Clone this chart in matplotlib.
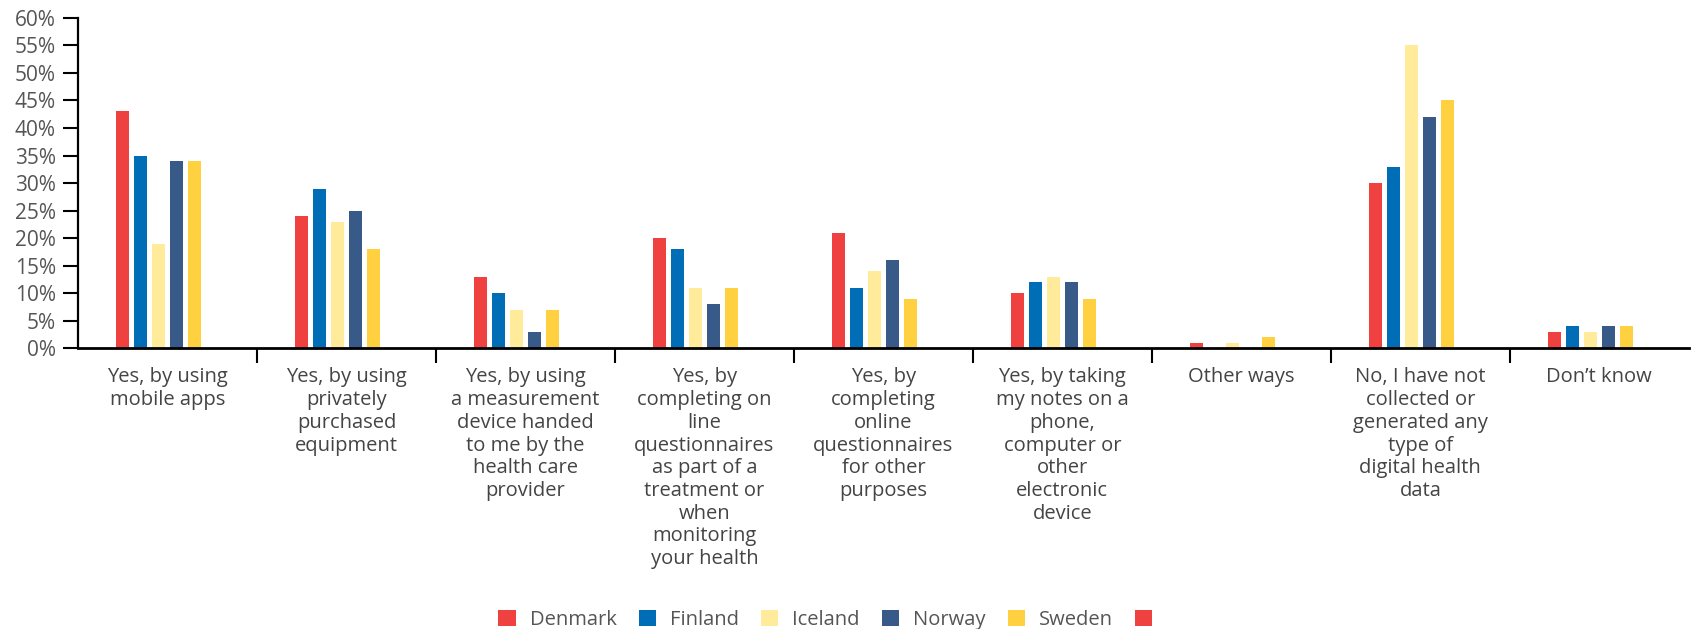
import matplotlib
matplotlib.use("Agg")
import matplotlib.pyplot as plt
import numpy as np

categories = [
    "Yes, by using\nmobile apps",
    "Yes, by using\nprivately\npurchased\nequipment",
    "Yes, by using\na measurement\ndevice handed\nto me by the\nhealth care\nprovider",
    "Yes, by\ncompleting on\nline\nquestionnaires\nas part of a\ntreatment or\nwhen\nmonitoring\nyour health",
    "Yes, by\ncompleting\nonline\nquestionnaires\nfor other\npurposes",
    "Yes, by taking\nmy notes on a\nphone,\ncomputer or\nother\nelectronic\ndevice",
    "Other ways",
    "No, I have not\ncollected or\ngenerated any\ntype of\ndigital health\ndata",
    "Don\u2019t know",
]
series_names = ["Denmark", "Finland", "Iceland", "Norway", "Sweden", ""]
denmark = [43, 24, 13, 20, 21, 10, 1, 30, 3]
finland = [35, 29, 10, 18, 11, 12, 0, 33, 4]
iceland = [19, 23, 7, 11, 14, 13, 1, 55, 3]
norway = [34, 25, 3, 8, 16, 12, 0, 42, 4]
sweden = [34, 18, 7, 11, 9, 9, 2, 45, 4]
extra = [0, 0, 0, 0, 0, 0, 0, 0, 0]
colors = ["#EF4140", "#006EB6", "#FFEB99", "#375A88", "#FFD040", "#EF4140"]
yticks = list(range(0, 61, 5))

plt.rcParams['font.family'] = ['Open Sans', 'DejaVu Sans']

fig = plt.figure(figsize=(16.92, 6.29), dpi=100)
ax = fig.add_axes([0.0461, 0.4467, 0.952, 0.5247])

data = [denmark, finland, iceland, norway, sweden, extra]
n = len(categories)
x = np.arange(n)
slot = 0.1
bw = 0.072
handles = []
for i, (vals, c) in enumerate(zip(data, colors)):
    offs = (i - 2.5) * slot
    b = ax.bar(x + offs, vals, width=bw, color=c, label=series_names[i])
    handles.append(b)

ax.set_xlim(-0.5, n - 0.5)
ax.set_ylim(0, 60)
ax.set_yticks(yticks)
ax.set_yticklabels([f"{v}%" for v in yticks], color="#555555", fontsize=15)
ax.tick_params(axis='y', length=11, width=1.5, color='black', pad=5)

ax.set_xticks(x)
ax.set_xticklabels(categories, fontsize=14.5, color="#444444", linespacing=1.18, va='top')
ax.tick_params(axis='x', which='major', length=0, pad=14)
ax.set_xticks(np.arange(0.5, n - 0.5, 1), minor=True)
ax.tick_params(axis='x', which='minor', length=11, width=1.5, color='black')

for s in ['top', 'right']:
    ax.spines[s].set_visible(False)
ax.spines['left'].set_linewidth(1.6)
ax.spines['bottom'].set_linewidth(2)

leg = fig.legend(handles=handles, labels=series_names, loc='center', bbox_to_anchor=(0.492, 0.015),
                 ncol=6, frameon=False, fontsize=14.5, handlelength=0.85, handleheight=0.85,
                 handletextpad=0.7, columnspacing=1.1)
for t in leg.get_texts():
    t.set_color("#555555")

fig.savefig("out.png", dpi=100)
